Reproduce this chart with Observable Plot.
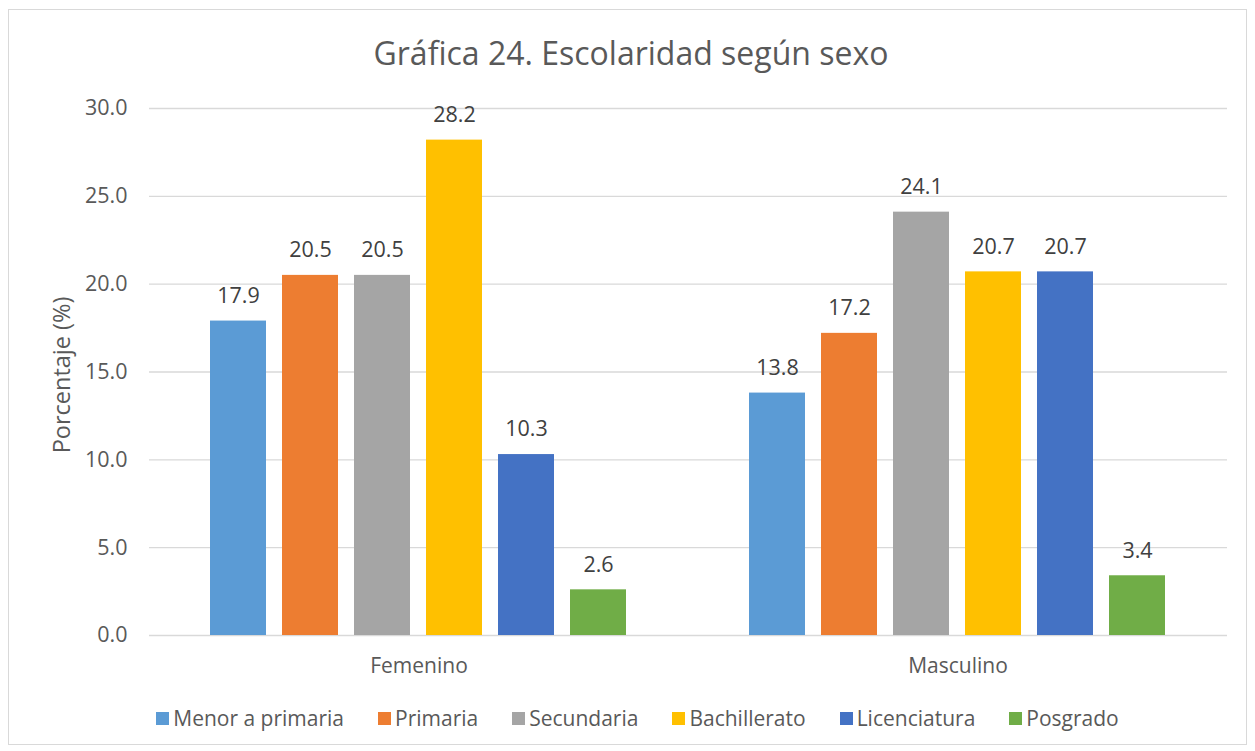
<!DOCTYPE html>
<html>
<head>
<meta charset="utf-8">
<script src="https://cdn.jsdelivr.net/npm/d3@7"></script>
<script src="https://cdn.jsdelivr.net/npm/@observablehq/plot@0.6"></script>
<style>
  html, body { margin: 0; padding: 0; background: #fff; }
  body { width: 1255px; height: 751px; position: relative; overflow: hidden; font-family: "Open Sans", sans-serif; }
  #frame { position: absolute; left: 8px; top: 9px; width: 1239px; height: 736px; border: 1px solid #d9d9d9; box-sizing: border-box; }
  #title { position: absolute; left: 0; width: 1262px; top: 34px; text-align: center; font-size: 32px; color: #595959; line-height: 1.2; }
  #chart { position: absolute; left: 0; top: 0; }
  #ylabel { position: absolute; left: 61px; top: 375px; transform: translate(-50%, -50%) rotate(-90deg); font-size: 23.5px; color: #595959; white-space: nowrap; }
  #legend { position: absolute; left: 0; width: 1255px; top: 706px; display: flex; justify-content: center; gap: 34px; font-size: 21px; color: #595959; padding-left: 20px; box-sizing: border-box; line-height: 1.2;}
  #legend .item { display: flex; align-items: center; gap: 4px; }
  #legend .sw { width: 13px; height: 13px; display: inline-block; }
</style>
</head>
<body>
<div id="frame"></div>
<div id="chart"></div>
<div id="title">Gráfica 24. Escolaridad según sexo</div>
<div id="ylabel">Porcentaje (%)</div>
<div id="legend"></div>
<script>
const sexes = ["Femenino", "Masculino"];
const levels = ["Menor a primaria", "Primaria", "Secundaria", "Bachillerato", "Licenciatura", "Posgrado"];
const femenino = [17.9, 20.5, 20.5, 28.2, 10.3, 2.6];
const masculino = [13.8, 17.2, 24.1, 20.7, 20.7, 3.4];
const colors = ["#5B9BD5", "#ED7D31", "#A5A5A5", "#FFC000", "#4472C4", "#70AD47"];
const yTicks = [0, 5, 10, 15, 20, 25, 30];

const data = [];
levels.forEach((l, i) => data.push({sexo: "Femenino", nivel: l, valor: femenino[i]}));
levels.forEach((l, i) => data.push({sexo: "Masculino", nivel: l, valor: masculino[i]}));

const chart = Plot.plot({
  width: 1255,
  height: 751,
  marginLeft: 148,
  marginRight: 28,
  marginTop: 108,
  marginBottom: 116,
  style: {fontFamily: '"Open Sans", sans-serif', background: "transparent"},
  fx: {domain: sexes, padding: 0, label: null, axis: null},
  x: {domain: levels, paddingInner: 0.222, paddingOuter: 0.82, axis: null},
  y: {domain: [0, 30], axis: null},
  color: {domain: levels, range: colors},
  marks: [
    Plot.ruleY(yTicks, {stroke: "#d9d9d9", strokeWidth: 1.3}),
    Plot.barY(data, {fx: "sexo", x: "nivel", y: "valor", fill: "nivel"}),
    Plot.text(data, {fx: "sexo", x: "nivel", y: "valor", text: d => d.valor.toFixed(1), dy: -25, fontSize: 21.5, fill: "#404040", lineAnchor: "middle"}),
    Plot.axisFx({domain: sexes, anchor: "bottom", tickSize: 0, tickPadding: 23, fontSize: 21, color: "#595959", label: null}),
    Plot.axisY({ticks: yTicks, tickFormat: d => d.toFixed(1), tickSize: 0, tickPadding: 22, fontSize: 21.5, color: "#595959", label: null, facetAnchor: "left"})
  ]
});
document.getElementById("chart").appendChild(chart);

const legend = document.getElementById("legend");
levels.forEach((l, i) => {
  const it = document.createElement("div");
  it.className = "item";
  it.innerHTML = `<span class="sw" style="background:${colors[i]}"></span><span>${l}</span>`;
  legend.appendChild(it);
});
</script>
</body>
</html>
